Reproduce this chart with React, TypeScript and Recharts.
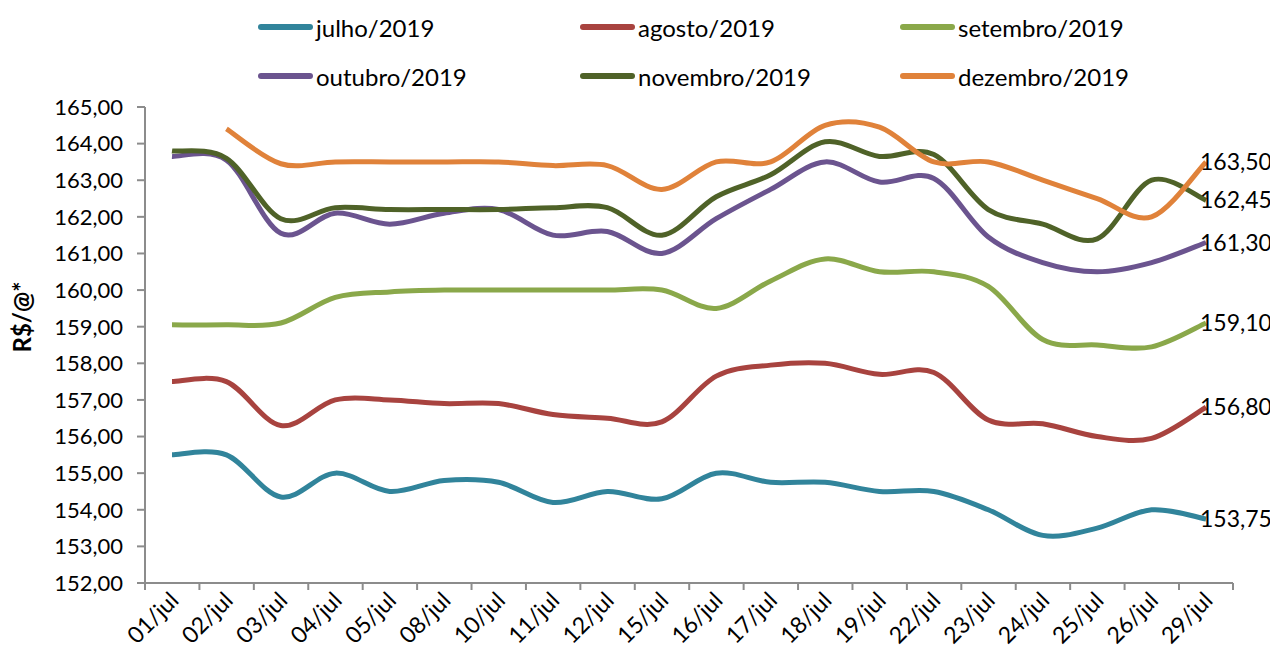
import { LineChart, Line, XAxis, YAxis, LabelList } from "recharts";

const DAYS = [
  "01/jul", "02/jul", "03/jul", "04/jul", "05/jul", "08/jul", "10/jul", "11/jul", "12/jul", "15/jul",
  "16/jul", "17/jul", "18/jul", "19/jul", "22/jul", "23/jul", "24/jul", "25/jul", "26/jul", "29/jul",
];

// R$/@ por vencimento
const JULHO = [155.5, 155.5, 154.35, 155.0, 154.5, 154.8, 154.75, 154.2, 154.5, 154.3, 155.0, 154.75, 154.75, 154.5, 154.5, 154.0, 153.3, 153.5, 154.0, 153.75];
const AGOSTO = [157.5, 157.5, 156.3, 157.0, 157.0, 156.9, 156.9, 156.6, 156.5, 156.4, 157.65, 157.95, 158.0, 157.7, 157.75, 156.45, 156.35, 156.0, 155.95, 156.8];
const SETEMBRO = [159.05, 159.05, 159.1, 159.8, 159.95, 160.0, 160.0, 160.0, 160.0, 160.0, 159.5, 160.25, 160.85, 160.5, 160.5, 160.1, 158.65, 158.5, 158.45, 159.1];
const OUTUBRO = [163.65, 163.55, 161.55, 162.1, 161.8, 162.1, 162.2, 161.5, 161.6, 161.0, 161.95, 162.75, 163.5, 162.95, 163.05, 161.45, 160.75, 160.5, 160.75, 161.3];
const NOVEMBRO = [163.8, 163.6, 161.95, 162.25, 162.2, 162.2, 162.2, 162.25, 162.25, 161.5, 162.55, 163.15, 164.05, 163.65, 163.7, 162.2, 161.8, 161.4, 163.0, 162.45];
const DEZEMBRO = [null, 164.4, 163.45, 163.5, 163.5, 163.5, 163.5, 163.4, 163.4, 162.75, 163.5, 163.5, 164.5, 164.45, 163.5, 163.5, 163.0, 162.5, 162.0, 163.5];

const Y_TICKS = [152, 153, 154, 155, 156, 157, 158, 159, 160, 161, 162, 163, 164, 165];

const SERIES = [
  { key: "julho", name: "julho/2019", color: "#31849b" },
  { key: "agosto", name: "agosto/2019", color: "#a8433f" },
  { key: "setembro", name: "setembro/2019", color: "#8aa84a" },
  { key: "outubro", name: "outubro/2019", color: "#6b548f" },
  { key: "novembro", name: "novembro/2019", color: "#4f6228" },
  { key: "dezembro", name: "dezembro/2019", color: "#e0823a" },
];

const data = DAYS.map((day, i) => ({
  day,
  julho: JULHO[i],
  agosto: AGOSTO[i],
  setembro: SETEMBRO[i],
  outubro: OUTUBRO[i],
  novembro: NOVEMBRO[i],
  dezembro: DEZEMBRO[i],
}));

const FONT = "Lato, 'Open Sans', sans-serif";
const AXIS = "#8c8c8c";
const HALF = 27;

const fmt = (v: number) => v.toFixed(2).replace(".", ",");

// Excel-like smoothing (Catmull-Rom through every point)
function smoothCurve(context: any) {
  let pts: number[][] = [];
  return {
    areaStart() {},
    areaEnd() {},
    lineStart() {
      pts = [];
    },
    point(x: number, y: number) {
      pts.push([+x, +y]);
    },
    lineEnd() {
      const n = pts.length;
      if (!n) return;
      context.moveTo(pts[0][0], pts[0][1]);
      if (n === 1) {
        context.lineTo(pts[0][0], pts[0][1]);
        return;
      }
      for (let i = 0; i < n - 1; i++) {
        const p0 = pts[i - 1] || pts[i];
        const p1 = pts[i];
        const p2 = pts[i + 1];
        const p3 = pts[i + 2] || p2;
        context.bezierCurveTo(
          p1[0] + (p2[0] - p0[0]) / 6,
          p1[1] + (p2[1] - p0[1]) / 6,
          p2[0] - (p3[0] - p1[0]) / 6,
          p2[1] - (p3[1] - p1[1]) / 6,
          p2[0],
          p2[1]
        );
      }
    },
  };
}

function DayTick(props: any) {
  const { x, y, payload, index } = props;
  const last = index === DAYS.length - 1;
  return (
    <g>
      <line x1={x - HALF} y1={y} x2={x - HALF} y2={y + 7} stroke={AXIS} strokeWidth={2} />
      {last && <line x1={x + HALF} y1={y} x2={x + HALF} y2={y + 7} stroke={AXIS} strokeWidth={2} />}
      <text
        x={x + 8}
        y={y + 19}
        transform={`rotate(-45, ${x + 8}, ${y + 19})`}
        textAnchor="end"
        fontFamily={FONT}
        fontSize={23}
        fill="#000"
      >
        {payload.value}
      </text>
    </g>
  );
}

function EndLabel(props: any) {
  const { x, y, value, index } = props;
  if (index !== DAYS.length - 1 || value == null) return null;
  return (
    <text x={x - 6} y={y} dy="0.35em" fontFamily={FONT} fontSize={23} fill="#000">
      {fmt(value)}
    </text>
  );
}

function Legend() {
  return (
    <div
      style={{
        position: "absolute",
        left: 250,
        top: 4,
        display: "grid",
        gridTemplateColumns: "322px 320px 320px",
        rowGap: 19,
        fontFamily: FONT,
        fontSize: 24,
      }}
    >
      {SERIES.map((s) => (
        <div key={s.key} style={{ display: "flex", alignItems: "center", height: 30 }}>
          <svg width={58} height={8}>
            <line x1={3} y1={4} x2={52} y2={4} stroke={s.color} strokeWidth={6} strokeLinecap="round" />
          </svg>
          <span>{s.name}</span>
        </div>
      ))}
    </div>
  );
}

export default function App() {
  return (
    <div style={{ position: "relative", width: 1270, height: 647 }}>
      <LineChart width={1270} height={647} data={data} margin={{ top: 99, right: 45, left: 0, bottom: 0 }}>
        <XAxis
          dataKey="day"
          height={72}
          padding={{ left: HALF, right: HALF }}
          interval={0}
          tickLine={false}
          tickSize={0}
          tickMargin={0}
          stroke={AXIS}
          strokeWidth={2}
          tick={<DayTick />}
        />
        <YAxis
          width={137}
          domain={[152, 165]}
          ticks={Y_TICKS}
          tickFormatter={fmt}
          tickSize={8}
          tickMargin={14}
          stroke={AXIS}
          strokeWidth={2}
          tick={{ fill: "#000", fontFamily: FONT, fontSize: 22 }}
          label={{
            value: "R$/@*",
            angle: -90,
            position: "insideLeft",
            offset: 14,
            dy: -28,
            style: { fill: "#000", fontFamily: FONT, fontSize: 24, fontWeight: "bold", textAnchor: "middle" },
          }}
        />
        {SERIES.map((s) => (
          <Line
            key={s.key}
            type={smoothCurve as any}
            dataKey={s.key}
            name={s.name}
            stroke={s.color}
            strokeWidth={5}
            dot={false}
            activeDot={false}
            isAnimationActive={false}
          >
            <LabelList dataKey={s.key} content={<EndLabel />} />
          </Line>
        ))}
      </LineChart>
      <Legend />
    </div>
  );
}
